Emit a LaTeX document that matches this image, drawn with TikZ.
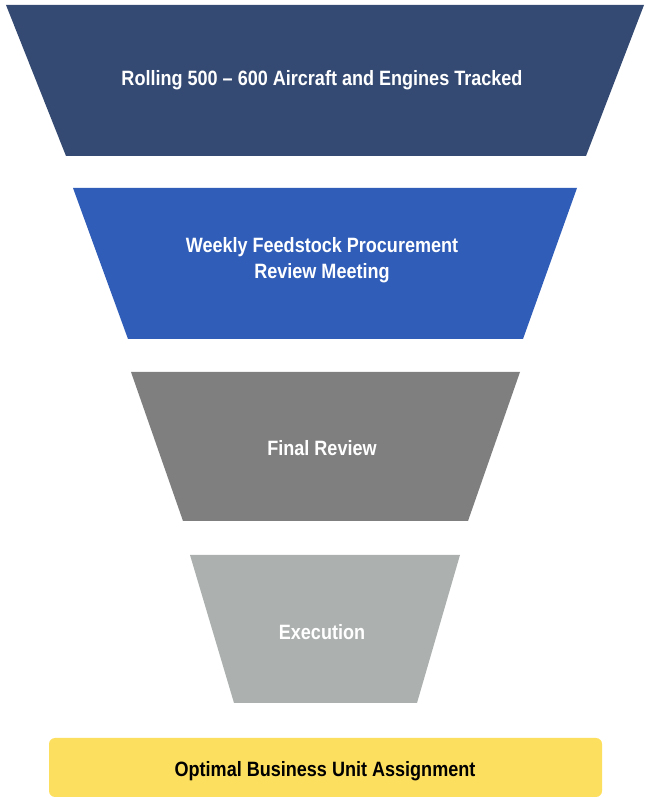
\documentclass[tikz,border=0pt]{standalone}
\usepackage{xcolor}
\usepackage{fontspec}
\usepackage{tikz}
\newfontfamily\funnelfont[FakeStretch=0.87,Ligatures=TeX]{Liberation Sans}
\definecolor{qqttqw}{HTML}{344A72}
\definecolor{qqwwcc}{HTML}{305DB8}
\definecolor{wwwwww}{HTML}{7F7F7F}
\definecolor{ccccdd}{HTML}{ACB1AF}
\definecolor{ffddww}{HTML}{FDDF5F}
\tikzset{every node/.style={font=\funnelfont\bfseries\fontsize{11.8}{14.7}\selectfont,align=center}}
\tikzset{steplabel/.style={text=white}}

\begin{document}
\begin{tikzpicture}[line cap=round,line join=round,x=1.0cm,y=1.0cm]
            \useasboundingbox (0.,0.) rectangle (12.9,15.96);
            \fill[color=qqttqw] (0.12,15.86) -- (12.88,15.86) -- (11.72,12.84) -- (1.32,12.84) -- cycle;
            \fill[color=qqwwcc] (1.46,12.2) -- (11.54,12.2) -- (10.46,9.18) -- (2.56,9.18) -- cycle;
            \fill[color=wwwwww] (2.62,8.52) -- (10.4,8.52) -- (9.36,5.54) -- (3.66,5.54) -- cycle;
            \fill[color=ccccdd] (3.8,4.86) -- (9.2,4.86) -- (8.34,1.9) -- (4.68,1.9) -- cycle;
            \fill[color=ffddww,rounded corners=0.12cm] (0.98,1.2) rectangle (12.04,0.02);
            \node[steplabel] (tracked) at (6.44,14.36) {Rolling 500 – 600 Aircraft and Engines Tracked};
            \node[steplabel] (weekly) at (6.44,10.76) {Weekly Feedstock Procurement\\Review Meeting};
            \node[steplabel] (final) at (6.44,7.0) {Final Review};
            \node[steplabel] (execution) at (6.44,3.32) {Execution};
            \node[text=black] (assignment) at (6.5,0.54) {Optimal Business Unit Assignment};
\end{tikzpicture}
\end{document}
